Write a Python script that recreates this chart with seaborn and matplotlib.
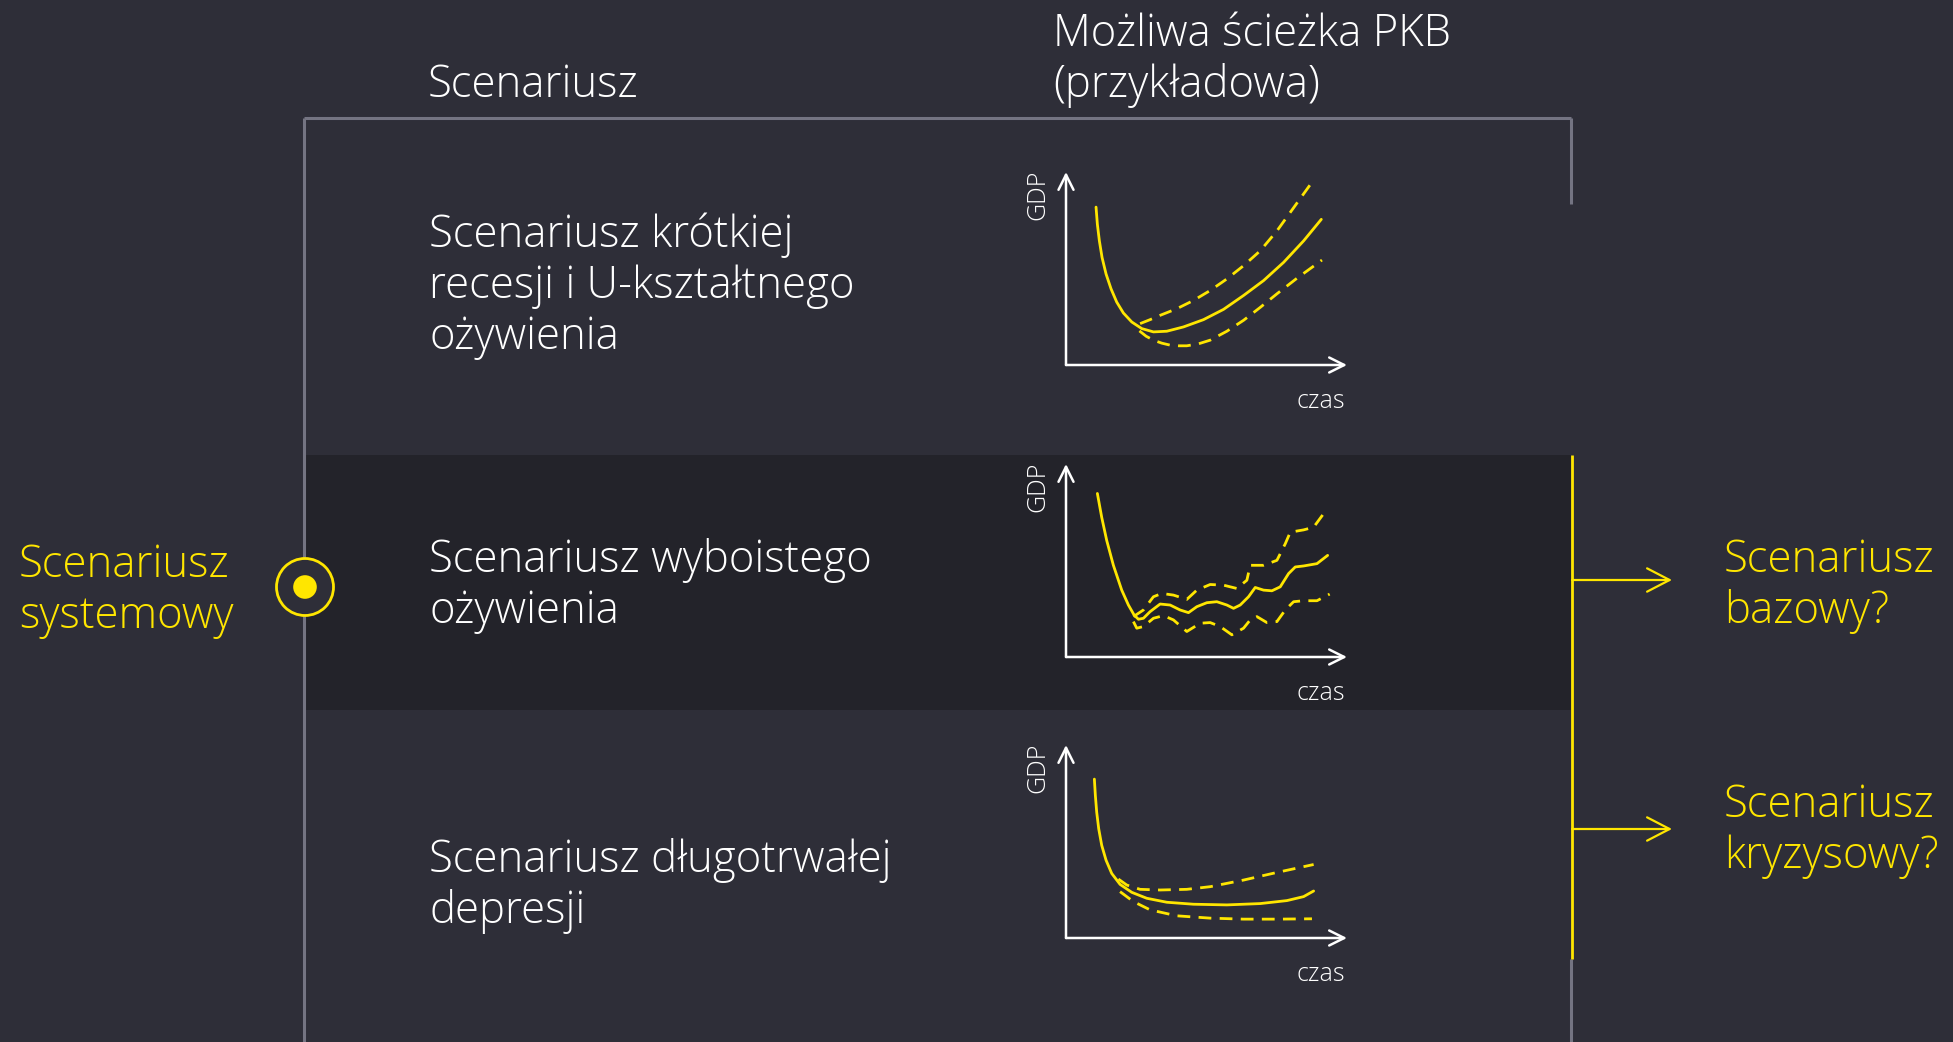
import numpy as np
import pandas as pd
import matplotlib
matplotlib.use("Agg")
import matplotlib.pyplot as plt
import seaborn as sns
from matplotlib.patches import Rectangle, Circle

sns.set_theme(style="white")
plt.rcParams['font.family'] = ['Open Sans', 'DejaVu Sans']

# ---------------- data ----------------
header_left = "Scenariusz"
header_right = ["Możliwa ścieżka PKB", "(przykładowa)"]
scenario_names = [
    ["Scenariusz krótkiej", "recesji i U-kształtnego", "ożywienia"],
    ["Scenariusz wyboistego", "ożywienia"],
    ["Scenariusz długotrwałej", "depresji"],
]
left_label = ["Scenariusz", "systemowy"]
outcome_labels = [["Scenariusz", "bazowy?"], ["Scenariusz", "kryzysowy?"]]
x_axis_label = "czas"
y_axis_label = "GDP"

# chart 1: U-shaped recovery
u_mid_x = [9.0, 9.4, 10.0, 10.8, 12.0, 13.5, 15.2, 17.2, 19.7, 22.7, 26.2, 30.2, 35.2, 41.2,
           47.2, 53.2, 59.2, 65.2, 71.2, 76.5]
u_mid_y = [47.7, 42.5, 37.5, 32.5, 27.5, 23.0, 19.0, 15.7, 13.0, 11.0, 10.0, 10.2, 11.5, 13.7,
           16.8, 21.0, 25.5, 31.0, 37.5, 44.0]
u_up_x = [22.2, 25.2, 28.2, 33.2, 38.2, 43.2, 48.2, 53.2, 58.2, 63.2, 68.2, 73.2]
u_up_y = [12.5, 13.7, 15.0, 17.0, 19.5, 22.5, 26.0, 30.0, 34.5, 40.5, 47.5, 54.5]
u_lo_x = [22.0, 24.0, 26.2, 28.7, 31.2, 33.7, 36.2, 39.7, 43.2, 48.2, 53.2, 58.2, 63.2, 69.2, 76.7]
u_lo_y = [10.3, 8.7, 7.5, 6.6, 6.0, 5.8, 5.8, 6.4, 7.5, 10.2, 13.5, 17.4, 21.5, 26.2, 31.7]

# chart 2: bumpy recovery
b_mid_x = [9.4, 10.7, 12.2, 14.2, 16.7, 18.7, 20.4, 21.7, 23.2, 25.2, 28.2, 31.2, 34.2, 36.7,
           39.2, 42.2, 45.2, 48.2, 50.2, 52.2, 54.7, 56.7, 59.2, 61.7, 64.2, 66.7, 68.7, 71.2,
           75.2, 78.4]
b_mid_y = [49.4, 42.2, 35.2, 27.7, 20.2, 15.7, 12.7, 11.4, 11.7, 13.7, 16.0, 15.7, 14.2, 13.4,
           15.2, 16.4, 16.7, 15.7, 14.7, 15.7, 18.2, 21.0, 20.2, 20.0, 21.2, 25.2, 27.2, 27.5,
           28.2, 30.7]
b_up_x = [20.2, 23.2, 26.2, 28.7, 32.2, 36.2, 39.2, 43.2, 47.2, 51.2, 54.2, 55.2, 59.2, 63.2,
          65.7, 67.2, 71.2, 74.2, 76.9]
b_up_y = [12.2, 14.2, 18.2, 19.2, 18.7, 17.4, 20.2, 21.9, 21.7, 20.7, 23.2, 27.7, 27.7, 29.2,
          34.2, 37.7, 38.4, 39.2, 42.9]
b_lo_x = [20.2, 21.2, 23.2, 26.2, 29.2, 32.2, 36.2, 40.2, 43.2, 46.2, 49.7, 53.2, 55.2, 57.2,
          60.2, 63.2, 65.7, 68.2, 71.2, 75.2, 79.0]
b_lo_y = [10.7, 8.7, 9.2, 11.7, 12.5, 11.2, 7.7, 10.2, 10.4, 9.2, 6.7, 8.7, 11.2, 12.2,
          10.4, 10.7, 14.2, 16.7, 17.0, 17.0, 19.0]

# chart 3: prolonged depression
d_mid_x = [8.5, 8.8, 9.2, 9.8, 10.7, 12.0, 13.7, 16.2, 19.7, 24.2, 30.2, 38.2, 48.2, 58.2,
           66.2, 71.2, 74.2]
d_mid_y = [48.0, 43.0, 38.0, 33.0, 28.0, 23.5, 19.5, 16.2, 13.8, 12.0, 10.8, 10.2, 10.0, 10.4,
           11.3, 12.5, 14.2]
d_up_x = [15.7, 18.2, 22.2, 28.2, 36.2, 43.2, 53.2, 63.2, 74.2]
d_up_y = [17.8, 16.0, 14.7, 14.5, 14.7, 15.5, 17.5, 19.8, 22.2]
d_lo_x = [16.2, 20.2, 25.2, 33.2, 43.2, 53.2, 63.2, 73.7]
d_lo_y = [14.0, 11.0, 8.5, 6.7, 6.0, 5.7, 5.7, 5.8]

charts = [
    [(u_mid_x, u_mid_y), (u_up_x, u_up_y), (u_lo_x, u_lo_y)],
    [(b_mid_x, b_mid_y), (b_up_x, b_up_y), (b_lo_x, b_lo_y)],
    [(d_mid_x, d_mid_y), (d_up_x, d_up_y), (d_lo_x, d_lo_y)],
]

# ---------------- style ----------------
BG = "#2e2e38"
BAND = "#23232a"
GRID = "#747482"
YEL = "#ffe600"
WHITE = "#ffffff"
W, H = 1953, 1042
FS = 31.5

fig = plt.figure(figsize=(W / 100, H / 100), dpi=100, facecolor=BG)
bg = fig.add_axes([0, 0, 1, 1])
bg.set_xlim(0, W)
bg.set_ylim(H, 0)
bg.axis("off")
bg.set_facecolor(BG)

# dark middle band
bg.add_patch(Rectangle((304, 455), 1571 - 304, 710 - 455, facecolor=BAND, edgecolor="none", zorder=1))

# frame lines
bg.plot([304, 1571], [118, 118], color=GRID, lw=2.2, zorder=2, solid_capstyle="butt")
bg.plot([304, 304], [118, H], color=GRID, lw=2.2, zorder=2, solid_capstyle="butt")
bg.plot([1571, 1571], [118, 204], color=GRID, lw=2.2, zorder=2, solid_capstyle="butt")
bg.plot([1571, 1571], [959, H], color=GRID, lw=2.2, zorder=2, solid_capstyle="butt")
# yellow connector
bg.plot([1572, 1572], [455, 959], color=YEL, lw=2.0, zorder=3, solid_capstyle="butt")
for yy in (580, 829):
    bg.annotate("", xy=(1672, yy), xytext=(1572, yy),
                arrowprops=dict(arrowstyle="->,head_length=1.35,head_width=0.7", color=YEL, lw=1.6,
                                shrinkA=0, shrinkB=0), zorder=3)

# circle marker on left line
bg.add_patch(Circle((305, 587), 28.5, facecolor=BG, edgecolor=YEL, lw=2.0, zorder=4))
bg.add_patch(Circle((305, 587), 11.8, facecolor=YEL, edgecolor="none", zorder=5))

# texts
tkw = dict(fontsize=FS, fontweight="light", va="baseline", ha="left")
bg.text(428, 97, header_left, color=WHITE, **tkw)
for i, ln in enumerate(header_right):
    bg.text(1053, 46 + 51 * i, ln, color=WHITE, **tkw)

row_baselines = [247, 572, 872]
for base, lines in zip(row_baselines, scenario_names):
    for i, ln in enumerate(lines):
        bg.text(429, base + 51 * i, ln, color=WHITE, **tkw)

for i, ln in enumerate(left_label):
    bg.text(19, 577 + 51 * i, ln, color=YEL, **tkw)
for base, lines in zip([572, 817], outcome_labels):
    for i, ln in enumerate(lines):
        bg.text(1724, base + 51 * i, ln, color=YEL, **tkw)

# ---------------- mini charts ----------------
corners_y = [365, 657, 938]
x0, ax_w, ax_h = 1066, 281, 193
XMAX, YMAX = 84.2, 58.3
for cy, series in zip(corners_y, charts):
    ax = fig.add_axes([x0 / W, (H - cy) / H, ax_w / W, ax_h / H])
    ax.set_xlim(0, XMAX)
    ax.set_ylim(0, YMAX)
    ax.axis("off")
    ax.patch.set_alpha(0)
    for k, (xs, ys) in enumerate(series):
        df = pd.DataFrame({"x": xs, "y": ys})
        if k == 0:
            sns.lineplot(data=df, x="x", y="y", ax=ax, color=YEL, lw=2.0, sort=False,
                         estimator=None)
        else:
            sns.lineplot(data=df, x="x", y="y", ax=ax, color=YEL, lw=2.0, sort=False,
                         estimator=None, linestyle=(0, (4.6, 3.0)))
    for ln in ax.get_lines():
        ln.set_solid_joinstyle("round")
        ln.set_dash_joinstyle("round")
    arw = dict(arrowstyle="->,head_length=0.9,head_width=0.45", color=WHITE, lw=1.8,
               shrinkA=0, shrinkB=0)
    ax.annotate("", xy=(1, 0), xytext=(0, 0), xycoords="axes fraction",
                textcoords="axes fraction", arrowprops=arw, annotation_clip=False)
    ax.annotate("", xy=(0, 1), xytext=(0, 0), xycoords="axes fraction",
                textcoords="axes fraction", arrowprops=arw, annotation_clip=False)
    bg.text(1038, cy - 170, y_axis_label, color=WHITE, fontsize=18, fontweight="light",
            rotation=90, ha="center", va="center")
    bg.text(1345, cy + 43, x_axis_label, color=WHITE, fontsize=18, fontweight="light",
            ha="right", va="baseline")

fig.savefig("out.png", dpi=100, facecolor=BG)
